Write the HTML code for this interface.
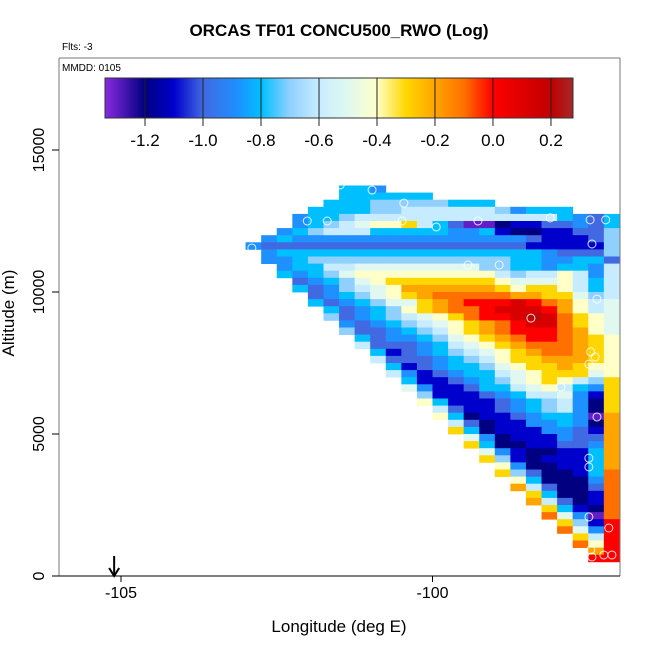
<!DOCTYPE html>
<html><head><meta charset="utf-8"><style>
body{margin:0;background:#fff;}
svg{display:block;font-family:"Liberation Sans",sans-serif;}
</style></head><body>
<svg id="chart" width="650" height="650" viewBox="0 0 650 650">
<rect x="0" y="0" width="650" height="650" fill="#fff"/>
<defs><clipPath id="pc"><rect x="59" y="58" width="561" height="518"/></clipPath></defs>
<text x="339" y="36" font-size="17" font-weight="bold" text-anchor="middle">ORCAS TF01 CONCU500_RWO (Log)</text>
<text x="62" y="50" font-size="10">Flts: -3</text>
<g id="heat" clip-path="url(#pc)"></g>
<g id="pts" clip-path="url(#pc)"></g>
<line x1="59" y1="58" x2="620" y2="58" stroke="#777" stroke-width="1"/>
<line x1="620" y1="58" x2="620" y2="576" stroke="#777" stroke-width="1"/>
<line x1="59" y1="58" x2="59" y2="576" stroke="#777" stroke-width="1"/>
<line x1="52" y1="576" x2="620" y2="576" stroke="#000" stroke-width="1"/>
<text x="62" y="71" font-size="10">MMDD: 0105</text>
<g id="cbar"></g>
<g id="axes"></g>
<text x="339" y="632" font-size="17" text-anchor="middle">Longitude (deg E)</text>
<text transform="translate(14,313) rotate(-90)" font-size="17" text-anchor="middle">Altitude (m)</text>
<g>
<line id="arrL" x1="114" y1="556" x2="114" y2="574" stroke="#000" stroke-width="2"/>
<path id="arrH" d="M109,568 L114,576 L119,568" fill="none" stroke="#000" stroke-width="2"/>
</g>
</svg>
<script>
const codeValues = {p:-1.3,n:-1.2,b:-1.1,r:-1.0,d:-0.88,s:-0.8,l:-0.7,c:-0.6,w:-0.5,y:-0.4,g:-0.3,o:-0.2,e:-0.1,R:0.0,D:0.12,M:0.22};
const gridRows = [
"......ssd...............",
"......ssssss............",
".....ssslllllsss........",
"....ssssllccccccldsss...",
"...dsslcccccccccccccsdrs",
"...dslcwyygcsrppnbbrrdrs",
"..dslcccsssssddsbnnbbrrl",
".dsdddddddddddddddrbbbrl",
"drrrrrrrrrrrrrrrrrbbbbbl",
".dsssssssssssssssssdrrrl",
".ddslllllllllllllssddssr",
"..dssccwwwwwwwwllssdssdc",
"..sdslwyyyyyyyyyclccycdc",
"...rdslwygggggggywwwycsc",
"...srdlcwyoooooogyggycsc",
"....rdslwygoeeeeeooggwlc",
"....srdslwwgoeRRRDReoycw",
".....srdslygoeeRDDDRoycw",
".....lrdslcwygeRRDMDegyw",
"......drdslcwygoeRDDegyw",
"......lrrdslcygoeRRReoyw",
".......srddslwygoeRReogy",
".......crrrdscwygoeeeogy",
"........sbrdslcwygoeeogy",
"........crrrdslcyggooogy",
".........sbrdsslwyggogyy",
".........cdbrdsscwygggwy",
"..........sbbrdslwygyclg",
"..........wdbbrsscwycsdg",
"...........lbbbrdsccwdbg",
"...........ysbbbrdslcdng",
"............crbbrdslcdng",
"............ysnbbrdssdpo",
".............crnbbddsdno",
".............gsnbbbddrbo",
"..............wdnbbbdrro",
"..............gsnnbbrrdo",
"...............wdbnnbbso",
"...............glbnbbbso",
"................ydnnbbso",
"................glrnnbse",
".................ysnnnde",
".................ocrnnre",
"..................gsnnbe",
"..................ocrnbe",
"...................gsbne",
"...................ewdpe",
"....................glbR",
"....................ewdR",
".....................gcR",
".....................eyR",
"......................oR",
"......................RR"
];
const lonStart = -103, dLon = 0.25, altTop = 13750, dAlt = 250;
const pointLon = [-101.48,-100.97,-100.46,-102.01,-101.69,-100.49,-99.27,-99.94,-98.11,-97.47,-97.22,-97.44,-102.90,-99.43,-98.93,-97.36,-98.42,-97.46,-97.39,-97.49,-97.94,-97.36,-97.49,-97.49,-97.49,-97.17,-97.46,-97.44,-97.25,-97.12];
const pointAlt = [13770,13590,13130,12500,12500,12500,12500,12290,12610,12540,12540,11690,11550,10950,10950,9750,9080,7890,7710,7460,6650,5600,4150,3840,2080,1690,920,670,740,740];
const cbarTicks = [-1.2,-1.0,-0.8,-0.6,-0.4,-0.2,0.0,0.2];
const cbarTickLabels = ["-1.2","-1.0","-0.8","-0.6","-0.4","-0.2","0.0","0.2"];
const xTicks = [-105,-100];
const xTickLabels = ["-105","-100"];
const yTicks = [0,5000,10000,15000];
const yTickLabels = ["0","5000","10000","15000"];
const arrowLon = -105.11;

const NS="http://www.w3.org/2000/svg";
function xScale(lon){return 432.5+(lon+100)*62.3;}
function yScale(alt){return 576-alt*0.0284;}
const cbMin=-1.338, cbMax=0.276, cbX0=105, cbX1=573;
function cbScale(v){return cbX0+(v-cbMin)/(cbMax-cbMin)*(cbX1-cbX0);}
const stops=[[-1.34,[138,43,226]],[-1.2,[0,0,128]],[-1.1,[0,0,205]],[-1.0,[65,105,225]],[-0.88,[30,144,255]],[-0.8,[0,191,255]],[-0.7,[144,208,255]],[-0.6,[200,236,255]],[-0.5,[224,248,240]],[-0.4,[255,255,200]],[-0.3,[255,215,0]],[-0.2,[255,165,0]],[-0.1,[255,112,0]],[0.0,[255,0,0]],[0.2,[192,0,0]],[0.28,[165,42,42]]];
function color(v){
  if(v<=stops[0][0])return 'rgb('+stops[0][1].join(',')+')';
  for(let i=1;i<stops.length;i++){
    if(v<=stops[i][0]){const a=stops[i-1],b=stops[i];const t=(v-a[0])/(b[0]-a[0]);
      return 'rgb('+a[1].map((c,k)=>Math.round(c+(b[1][k]-c)*t)).join(',')+')';}
  }
  return 'rgb('+stops[stops.length-1][1].join(',')+')';
}
function mk(tag,attrs,parent){const e=document.createElementNS(NS,tag);for(const k in attrs)e.setAttribute(k,attrs[k]);parent.appendChild(e);return e;}

const heat=document.getElementById('heat');
gridRows.forEach((row,j)=>{
  const aTop=altTop-j*dAlt;
  for(let i=0;i<24;i++){
    const ch=row[i]; if(!ch||ch==='.')continue;
    const v=codeValues[ch];
    const x0=xScale(lonStart+i*dLon), x1=xScale(lonStart+(i+1)*dLon);
    const y0=yScale(aTop), y1=yScale(aTop-dAlt);
    const r=mk('rect',{x:x0.toFixed(2),y:y0.toFixed(2),width:(x1-x0+0.4).toFixed(2),height:(y1-y0+0.4).toFixed(2),fill:color(v)},heat);
    
    
  }
});
const pts=document.getElementById('pts');
pointLon.forEach((lon,k)=>{
  const c=mk('circle',{cx:xScale(lon).toFixed(2),cy:yScale(pointAlt[k]).toFixed(2),r:4,fill:'none',stroke:'#fff','stroke-width':1,opacity:0.85},pts);
  
  
});
const cb=document.getElementById('cbar');
for(let x=cbX0;x<cbX1;x+=1){
  const v=cbMin+(x+0.5-cbX0)/(cbX1-cbX0)*(cbMax-cbMin);
  mk('rect',{x:x,y:78,width:1.3,height:40,fill:color(v)},cb);
}
mk('rect',{x:cbX0,y:78,width:cbX1-cbX0,height:40,fill:'none',stroke:'#333','stroke-width':1},cb);
cbarTicks.forEach((t,k)=>{
  const x=cbScale(t);
  const l=mk('line',{x1:x,y1:78,x2:x,y2:126,stroke:'#222','stroke-width':1},cb);
  
  
  const tx=mk('text',{x:x,y:146,'font-size':17,'text-anchor':'middle'},cb);
  tx.textContent=cbarTickLabels[k];
  
  
});
const ax=document.getElementById('axes');
xTicks.forEach((t,k)=>{
  const x=xScale(t);
  mk('line',{x1:x,y1:576,x2:x,y2:582,stroke:'#000'},ax);
  const tx=mk('text',{x:x,y:598,'font-size':16,'text-anchor':'middle'},ax);
  tx.textContent=xTickLabels[k];
  
  
});
yTicks.forEach((t,k)=>{
  const y=yScale(t);
  mk('line',{x1:52,y1:y,x2:59,y2:y,stroke:'#000'},ax);
  const tx=mk('text',{transform:'translate(44,'+y+') rotate(-90)','font-size':16,'text-anchor':'middle'},ax);
  tx.textContent=yTickLabels[k];
  
  
});
const axx=xScale(arrowLon);
document.getElementById('arrL').setAttribute('x1',axx);
document.getElementById('arrL').setAttribute('x2',axx);
document.getElementById('arrH').setAttribute('d','M'+(axx-5)+',568 L'+axx+',576 L'+(axx+5)+',568');
</script>
</body></html>
